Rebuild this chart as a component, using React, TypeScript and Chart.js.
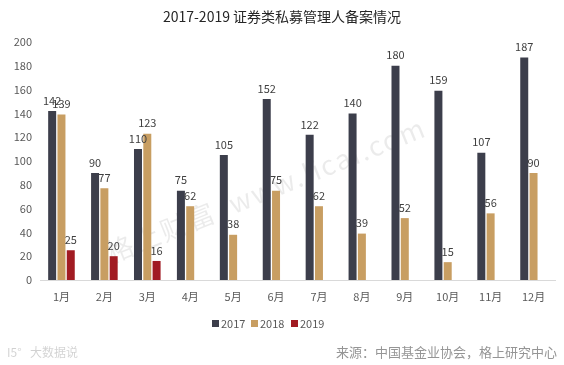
import React, { useEffect, useRef } from "react";
import { Chart, registerables } from "chart.js";

Chart.register(...registerables);

const months = ["1月", "2月", "3月", "4月", "5月", "6月", "7月", "8月", "9月", "10月", "11月", "12月"];
const s2017 = [142, 90, 110, 75, 105, 152, 122, 140, 180, 159, 107, 187];
const s2018 = [139, 77, 123, 62, 38, 75, 62, 39, 52, 15, 56, 90];
const s2019 = [25, 20, 16, null, null, null, null, null, null, null, null, null];
const seriesNames = ["2017", "2018", "2019"];
const colors = ["#3c3e4b", "#c89e62", "#a11b22"];
const yTicks = [0, 20, 40, 60, 80, 100, 120, 140, 160, 180, 200];
const titleText = "2017-2019 证券类私募管理人备案情况";
const sourceText = "来源：中国基金业协会，格上研究中心";
const watermarkText = "格上财富  www.licai.com";

const FONT = "'Microsoft YaHei', 'Noto Sans CJK SC', 'Noto Sans', sans-serif";

const extrasPlugin = {
  id: "extras",
  beforeDatasetsDraw(chart: any) {
    const ctx = chart.ctx;
    ctx.save();
    ctx.translate(266, 190);
    ctx.rotate(-22 * Math.PI / 180);
    ctx.font = `27px ${FONT}`;
    try { (ctx as any).letterSpacing = "2px"; } catch (e) {}
    ctx.fillStyle = "rgba(0,0,0,0.08)";
    ctx.textAlign = "center";
    ctx.textBaseline = "middle";
    ctx.fillText(watermarkText, 0, 0);
    ctx.restore();
  },
  afterDatasetsDraw(chart: any) {
    const ctx = chart.ctx;
    ctx.save();
    ctx.font = `11px ${FONT}`;
    ctx.fillStyle = "#404040";
    ctx.textAlign = "center";
    ctx.textBaseline = "bottom";
    chart.data.datasets.forEach((ds: any, i: number) => {
      const meta = chart.getDatasetMeta(i);
      meta.data.forEach((el: any, j: number) => {
        const v = ds.data[j];
        if (v == null) return;
        ctx.fillText(String(v), el.x, el.y - 5);
      });
    });
    ctx.restore();
  },
  afterDraw(chart: any) {
    const ctx = chart.ctx;
    ctx.save();
    // title
    ctx.font = `14px ${FONT}`;
    ctx.fillStyle = "#262626";
    ctx.textAlign = "center";
    ctx.textBaseline = "middle";
    ctx.fillText(titleText, 282, 17);
    // legend
    ctx.font = `11px ${FONT}`;
    ctx.textAlign = "left";
    const xs = [212, 251, 291];
    seriesNames.forEach((n, i) => {
      ctx.fillStyle = colors[i];
      ctx.fillRect(xs[i], 320, 7, 7);
      ctx.fillStyle = "#595959";
      ctx.fillText(n, xs[i] + 9, 324);
    });
    // source
    ctx.font = `13px ${FONT}`;
    ctx.fillStyle = "#959595";
    ctx.textAlign = "right";
    ctx.fillText(sourceText, 557, 352);
    // logo
    ctx.font = `12px ${FONT}`;
    ctx.fillStyle = "rgba(0,0,0,0.18)";
    ctx.textAlign = "left";
    ctx.fillText("I5°", 7, 352);
    ctx.fillText("大数据说", 30, 352);
    ctx.restore();
  },
};

export default function App() {
  const ref = useRef<HTMLCanvasElement>(null);
  useEffect(() => {
    const chart = new Chart(ref.current!, {
      type: "bar",
      data: {
        labels: months,
        datasets: [s2017, s2018, s2019].map((d, i) => ({
          label: seriesNames[i],
          data: d as any,
          backgroundColor: colors[i],
          categoryPercentage: 0.65,
          barPercentage: 0.86,
        })),
      },
      options: {
        animation: false,
        responsive: false,
        devicePixelRatio: 1,
        layout: { padding: { left: 0, right: 9, top: 42, bottom: 0 } },
        plugins: {
          legend: { display: false },
          title: { display: false },
          tooltip: { enabled: false },
        },
        scales: {
          x: {
            grid: { display: false, drawTicks: false },
            border: { display: true, color: "#d9d9d9", width: 1 },
            ticks: { color: "#595959", font: { size: 11, family: FONT }, padding: 10, maxRotation: 0 },
            afterFit: (s: any) => { s.height = 85; },
          },
          y: {
            min: 0,
            max: 200,
            afterBuildTicks: (s: any) => { s.ticks = yTicks.map((v) => ({ value: v })); },
            grid: { display: false, drawTicks: false },
            border: { display: false },
            ticks: { color: "#595959", font: { size: 11, family: FONT }, padding: 8 },
            afterFit: (s: any) => { s.width = 40; },
          },
        },
      },
      plugins: [extrasPlugin],
    });
    return () => chart.destroy();
  }, []);
  return (
    <div style={{ position: "absolute", left: 0, top: 0, width: 564, height: 365, background: "#fff" }}>
      <canvas ref={ref} width={564} height={365} style={{ width: 564, height: 365 }} />
    </div>
  );
}
